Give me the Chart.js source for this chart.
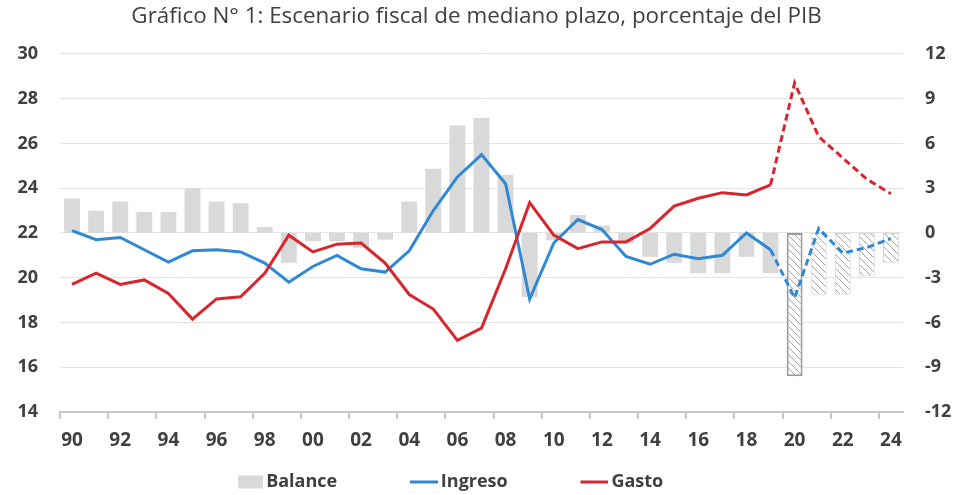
<!DOCTYPE html>
<html>
<head>
<meta charset="utf-8">
<script src="https://cdn.jsdelivr.net/npm/chart.js@4/dist/chart.umd.min.js"></script>
<style>
  html, body { margin: 0; padding: 0; background: #fff; }
  #wrap { width: 956px; height: 495px; }
</style>
</head>
<body>
<div id="wrap"><canvas id="fiscal-chart"></canvas></div>
<script>
// years 1990-2024, shown as two digits
const years = ['90','91','92','93','94','95','96','97','98','99',
  '00','01','02','03','04','05','06','07','08','09',
  '10','11','12','13','14','15','16','17','18','19',
  '20','21','22','23','24'];

// Balance, right axis (% of GDP)
const balance = [2.3, 1.5, 2.1, 1.4, 1.4, 3.0, 2.1, 2.0, 0.4, -2.0,
  -0.55, -0.55, -1.0, -0.45, 2.1, 4.3, 7.2, 7.7, 3.9, -4.3,
  -0.5, 1.2, 0.5, -0.7, -1.6, -2.0, -2.7, -2.7, -1.6, -2.7,
  -9.6, -4.15, -4.15, -2.9, -2.0];

// Ingreso, left axis
const ingreso = [22.1, 21.7, 21.8, 21.25, 20.7, 21.2, 21.25, 21.15, 20.65, 19.8,
  20.5, 21.0, 20.4, 20.25, 21.2, 23.0, 24.5, 25.5, 24.2, 19.05,
  21.55, 22.6, 22.15, 20.95, 20.6, 21.05, 20.85, 21.0, 22.0, 21.25,
  19.1, 22.2, 21.1, 21.35, 21.75];

// Gasto, left axis
const gasto = [19.7, 20.2, 19.7, 19.9, 19.3, 18.15, 19.05, 19.15, 20.2, 21.9,
  21.15, 21.5, 21.55, 20.65, 19.25, 18.6, 17.2, 17.75, 20.4, 23.35,
  21.9, 21.3, 21.6, 21.6, 22.2, 23.2, 23.55, 23.8, 23.7, 24.15,
  28.7, 26.3, 25.35, 24.4, 23.75];

const projStart = 30; // 2020 onwards is projection

const FONT = "'Open Sans', 'Noto Sans', sans-serif";
const TXT = '#404040';

// hatch pattern for projected bars
function hatch() {
  const c = document.createElement('canvas');
  c.width = 7; c.height = 7;
  const g = c.getContext('2d');
  g.fillStyle = '#ffffff';
  g.fillRect(0, 0, 7, 7);
  g.strokeStyle = '#a6a6a6';
  g.lineWidth = 1;
  g.beginPath();
  g.moveTo(-1, -1); g.lineTo(8, 8);
  g.moveTo(-8, -1); g.lineTo(1, 8);
  g.moveTo(6, -1); g.lineTo(15, 8);
  g.stroke();
  return g.createPattern(c, 'repeat');
}
const pat = hatch();

// legend marker drawn at the right end of a wider transparent image
function legendIcon(markW, markH, color) {
  const c = document.createElement('canvas');
  c.width = 38; c.height = 14;
  const g = c.getContext('2d');
  g.fillStyle = color;
  g.fillRect(38 - markW, (14 - markH) / 2, markW, markH);
  return c;
}

const barFill = balance.map((v, i) => i >= projStart ? pat : '#d9d9d9');
const barBorder = balance.map((v, i) => i === projStart ? '#9a9a9a' : (i > projStart ? '#d4d4d4' : '#d9d9d9'));
const barBorderW = balance.map((v, i) => i === projStart ? 2 : (i > projStart ? 1 : 0));

const dashProj = ctx => ctx.p0DataIndex >= projStart - 1 ? [7, 4] : undefined;

// en spaces keep the wide gaps between legend entries
const gap = n => '\u2002'.repeat(n) + '\u00a0';

new Chart(document.getElementById('fiscal-chart'), {
  type: 'bar',
  data: {
    labels: years,
    datasets: [{
        type: 'bar',
        label: 'Balance' + gap(6),
        data: balance,
        yAxisID: 'y1',
        backgroundColor: barFill,
        borderColor: barBorder,
        borderWidth: barBorderW,
        borderSkipped: false,
        barPercentage: 0.66,
        categoryPercentage: 1,
        order: 3,
        pointStyle: legendIcon(25, 13, '#d9d9d9')
      }, {
        type: 'line',
        label: 'Ingreso' + gap(6),
        data: ingreso,
        yAxisID: 'y',
        borderColor: '#2e88d4',
        backgroundColor: '#2e88d4',
        borderWidth: 3,
        pointRadius: 0,
        tension: 0,
        segment: { borderDash: dashProj },
        order: 2,
        pointStyle: legendIcon(28, 3, '#2e88d4')
      }, {
        type: 'line',
        label: 'Gasto' + gap(6),
        data: gasto,
        yAxisID: 'y',
        borderColor: '#d7262e',
        backgroundColor: '#d7262e',
        borderWidth: 3,
        pointRadius: 0,
        tension: 0,
        segment: { borderDash: dashProj },
        order: 1,
        pointStyle: legendIcon(28, 3, '#d7262e')
      }
    ]
  },
  options: {
    responsive: true,
    maintainAspectRatio: false,
    animation: false,
    layout: { padding: { left: 0, right: 3, top: 0, bottom: -6 } },
    plugins: {
      title: {
        display: true,
        text: 'Gráfico N° 1: Escenario fiscal de mediano plazo, porcentaje del PIB',
        color: TXT,
        font: { family: FONT, size: 22.4, weight: 'normal' },
        padding: { top: 3, bottom: 24 }
      },
      legend: {
        position: 'bottom',
        labels: {
          usePointStyle: true,
          pointStyleWidth: 26,
          color: TXT,
          font: { family: FONT, size: 18, weight: 'bold' },
          padding: 10,
          sort: (a, b) => a.datasetIndex - b.datasetIndex
        }
      },
      tooltip: { enabled: false }
    },
    scales: {
      x: {
        offset: true,
        grid: {
          offset: true,
          drawOnChartArea: false,
          tickLength: 7,
          color: ctx => ctx.index % 2 === 0 ? '#c8c8c8' : 'rgba(0,0,0,0)',
          lineWidth: 2
        },
        border: { color: '#c8c8c8', width: 2 },
        ticks: {
          autoSkip: false,
          maxRotation: 0,
          color: TXT,
          font: { family: FONT, size: 19, weight: 'bold' },
          padding: 10,
          callback: (v, i) => i % 2 === 0 ? years[i] : ''
        },
        afterFit: s => { s.height = 51; }
      },
      y: {
        position: 'left',
        min: 14,
        max: 30,
        ticks: {
          stepSize: 2,
          color: TXT,
          padding: 22,
          font: { family: FONT, size: 18, weight: 'bold' }
        },
        grid: { color: '#e3e3e3', drawTicks: false },
        border: { display: false },
        afterFit: s => { s.width = 60; }
      },
      y1: {
        position: 'right',
        min: -12,
        max: 12,
        ticks: {
          stepSize: 3,
          color: TXT,
          padding: 22,
          font: { family: FONT, size: 18, weight: 'bold' }
        },
        grid: { display: false, drawTicks: false },
        border: { display: false },
        afterFit: s => { s.width = 50; }
      }
    }
  }
});
</script>
</body>
</html>
